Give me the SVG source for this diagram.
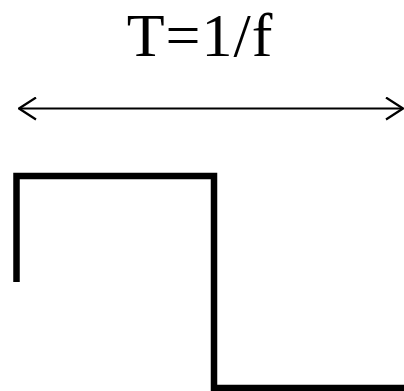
<svg xmlns="http://www.w3.org/2000/svg" width="404" height="391" viewBox="0 0 404 391">
<style>
.wave{fill:none;stroke:#000;stroke-width:6.5;stroke-linejoin:miter;stroke-linecap:butt}
.conn{fill:none;stroke:#000;stroke-width:2}
.lbl{font-family:"Liberation Serif","Times New Roman",serif;font-size:62px;letter-spacing:1px;fill:#000}
</style>
<defs>
<marker id="ah" viewBox="0 0 20 24" refX="19" refY="12" markerWidth="20" markerHeight="24" markerUnits="userSpaceOnUse" orient="auto-start-reverse">
<path d="M2,1 L19,12 L2,23" fill="none" stroke="#000" stroke-width="2.2"/>
</marker>
</defs>
<g id="label"><text class="lbl" x="200" y="55.5" text-anchor="middle">T=1/f</text></g>
<g id="connectors"><line class="conn" x1="19" y1="108.5" x2="403" y2="108.5" marker-start="url(#ah)" marker-end="url(#ah)"/></g>
<g id="waveform"><path class="wave" d="M16.5,282 V176 H214 V388 H404"/></g>
</svg>
